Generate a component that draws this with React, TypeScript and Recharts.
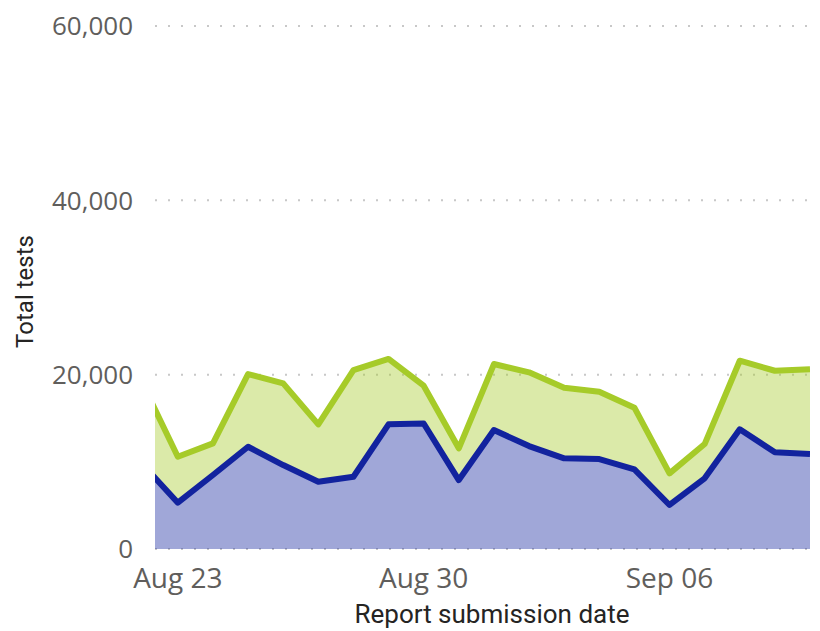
import { Area, AreaChart, CartesianGrid, XAxis, YAxis } from "recharts";

const dates = [
  "Aug 22", "Aug 23", "Aug 24", "Aug 25", "Aug 26", "Aug 27", "Aug 28", "Aug 29", "Aug 30", "Aug 31",
  "Sep 01", "Sep 02", "Sep 03", "Sep 04", "Sep 05", "Sep 06", "Sep 07", "Sep 08", "Sep 09", "Sep 10",
];
// bottom (blue) series
const lowerTests = [
  9690, 5310, 8490, 11730, 9630, 7720, 8290, 14300, 14400, 7910,
  13650, 11810, 10400, 10320, 9140, 5050, 8110, 13730, 11090, 10900,
];
// stacked on top (green) series
const upperTests = [
  9260, 5280, 3630, 8340, 9370, 6580, 12240, 7500, 4330, 3640,
  7570, 8460, 8100, 7720, 7070, 3630, 3930, 7870, 9360, 9710,
];
const xTicks = [1, 8, 15];
const yTicks = [0, 20000, 40000, 60000];

const BLUE = "#12239E";
const GREEN = "#A6CB29";
const FONT = "'Segoe UI', 'Open Sans', sans-serif";
const TITLE_FONT = "Roboto, sans-serif";

const data = dates.map((d, i) => ({ day: i, label: d, lower: lowerTests[i], upper: upperTests[i] }));

export default function App() {
  return (
    <div style={{ position: "absolute", left: 0, top: 0, background: "#fff" }}>
      <AreaChart width={820} height={631} data={data} margin={{ top: 26, right: 10, left: 0, bottom: 0 }}>
        <CartesianGrid vertical={false} stroke="#c8c8c8" strokeDasharray="2 11" strokeWidth={2} />
        <XAxis
          dataKey="day"
          type="number"
          domain={[0.35, 19]}
          allowDataOverflow
          ticks={xTicks}
          tickFormatter={(v) => dates[v]}
          height={82}
          axisLine={false}
          tickLine={false}
          tickSize={0}
          tickMargin={19}
          tick={{ fontSize: 28, fill: "#605E5C", fontFamily: FONT }}
          label={{
            content: ({ viewBox }: any) => (
              <text x={viewBox.x + 337} y={viewBox.y + 74} textAnchor="middle" fontSize={26} fill="#252423" fontFamily={TITLE_FONT}>
                Report submission date
              </text>
            ),
          }}
        />
        <YAxis
          type="number"
          domain={[0, 60000]}
          ticks={yTicks}
          width={155}
          axisLine={false}
          tickLine={false}
          tickSize={0}
          tickMargin={22}
          tickFormatter={(v) => Number(v).toLocaleString("en-US")}
          tick={{ fontSize: 26, fill: "#605E5C", fontFamily: FONT }}
          label={{
            content: ({ viewBox }: any) => {
              const cx = viewBox.x + 33;
              const cy = viewBox.y + viewBox.height / 2 + 4;
              return (
                <text x={cx} y={cy} transform={`rotate(-90 ${cx} ${cy})`} textAnchor="middle" fontSize={24} fill="#252423" fontFamily={TITLE_FONT}>
                  Total tests
                </text>
              );
            },
          }}
        />
        <Area dataKey="lower" stackId="fill" type="linear" stroke="none" fill={BLUE} fillOpacity={0.4} isAnimationActive={false} />
        <Area dataKey="upper" stackId="fill" type="linear" stroke="none" fill={GREEN} fillOpacity={0.4} isAnimationActive={false} />
        <Area dataKey="lower" stackId="line" type="linear" stroke={BLUE} strokeWidth={6} strokeLinejoin="round" fill="none" isAnimationActive={false} />
        <Area dataKey="upper" stackId="line" type="linear" stroke={GREEN} strokeWidth={6} strokeLinejoin="round" fill="none" isAnimationActive={false} />
      </AreaChart>
    </div>
  );
}
